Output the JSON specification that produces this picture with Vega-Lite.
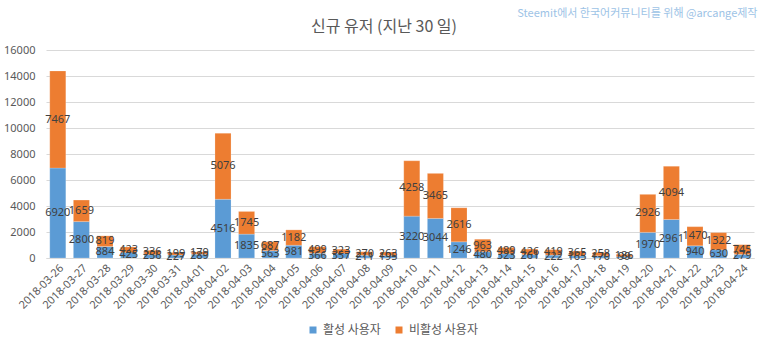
{
  "$schema": "https://vega.github.io/schema/vega-lite/v6.json",
  "width": 708,
  "height": 208,
  "autosize": {"type": "none"},
  "padding": {"left": 46, "top": 50, "right": 14, "bottom": 91},
  "background": "white",
  "title": {
    "text": "신규 유저 (지난 30 일)",
    "font": "Noto Sans CJK KR",
    "fontSize": 16,
    "fontWeight": "normal",
    "color": "#595959",
    "anchor": "middle",
    "dx": -16,
    "offset": -28
  },
  "data": {
    "values": [
      {"date": "2018-03-26", "type": "활성 사용자", "value": 6920},
      {"date": "2018-03-26", "type": "비활성 사용자", "value": 7467},
      {"date": "2018-03-27", "type": "활성 사용자", "value": 2800},
      {"date": "2018-03-27", "type": "비활성 사용자", "value": 1659},
      {"date": "2018-03-28", "type": "활성 사용자", "value": 884},
      {"date": "2018-03-28", "type": "비활성 사용자", "value": 819},
      {"date": "2018-03-29", "type": "활성 사용자", "value": 425},
      {"date": "2018-03-29", "type": "비활성 사용자", "value": 423},
      {"date": "2018-03-30", "type": "활성 사용자", "value": 256},
      {"date": "2018-03-30", "type": "비활성 사용자", "value": 336},
      {"date": "2018-03-31", "type": "활성 사용자", "value": 227},
      {"date": "2018-03-31", "type": "비활성 사용자", "value": 199},
      {"date": "2018-04-01", "type": "활성 사용자", "value": 289},
      {"date": "2018-04-01", "type": "비활성 사용자", "value": 179},
      {"date": "2018-04-02", "type": "활성 사용자", "value": 4516},
      {"date": "2018-04-02", "type": "비활성 사용자", "value": 5076},
      {"date": "2018-04-03", "type": "활성 사용자", "value": 1835},
      {"date": "2018-04-03", "type": "비활성 사용자", "value": 1745},
      {"date": "2018-04-04", "type": "활성 사용자", "value": 563},
      {"date": "2018-04-04", "type": "비활성 사용자", "value": 687},
      {"date": "2018-04-05", "type": "활성 사용자", "value": 981},
      {"date": "2018-04-05", "type": "비활성 사용자", "value": 1182},
      {"date": "2018-04-06", "type": "활성 사용자", "value": 366},
      {"date": "2018-04-06", "type": "비활성 사용자", "value": 499},
      {"date": "2018-04-07", "type": "활성 사용자", "value": 357},
      {"date": "2018-04-07", "type": "비활성 사용자", "value": 323},
      {"date": "2018-04-08", "type": "활성 사용자", "value": 211},
      {"date": "2018-04-08", "type": "비활성 사용자", "value": 270},
      {"date": "2018-04-09", "type": "활성 사용자", "value": 195},
      {"date": "2018-04-09", "type": "비활성 사용자", "value": 263},
      {"date": "2018-04-10", "type": "활성 사용자", "value": 3220},
      {"date": "2018-04-10", "type": "비활성 사용자", "value": 4258},
      {"date": "2018-04-11", "type": "활성 사용자", "value": 3044},
      {"date": "2018-04-11", "type": "비활성 사용자", "value": 3465},
      {"date": "2018-04-12", "type": "활성 사용자", "value": 1246},
      {"date": "2018-04-12", "type": "비활성 사용자", "value": 2616},
      {"date": "2018-04-13", "type": "활성 사용자", "value": 480},
      {"date": "2018-04-13", "type": "비활성 사용자", "value": 963},
      {"date": "2018-04-14", "type": "활성 사용자", "value": 323},
      {"date": "2018-04-14", "type": "비활성 사용자", "value": 489},
      {"date": "2018-04-15", "type": "활성 사용자", "value": 261},
      {"date": "2018-04-15", "type": "비활성 사용자", "value": 426},
      {"date": "2018-04-16", "type": "활성 사용자", "value": 222},
      {"date": "2018-04-16", "type": "비활성 사용자", "value": 419},
      {"date": "2018-04-17", "type": "활성 사용자", "value": 165},
      {"date": "2018-04-17", "type": "비활성 사용자", "value": 365},
      {"date": "2018-04-18", "type": "활성 사용자", "value": 170},
      {"date": "2018-04-18", "type": "비활성 사용자", "value": 258},
      {"date": "2018-04-19", "type": "활성 사용자", "value": 99},
      {"date": "2018-04-19", "type": "비활성 사용자", "value": 186},
      {"date": "2018-04-20", "type": "활성 사용자", "value": 1970},
      {"date": "2018-04-20", "type": "비활성 사용자", "value": 2926},
      {"date": "2018-04-21", "type": "활성 사용자", "value": 2961},
      {"date": "2018-04-21", "type": "비활성 사용자", "value": 4094},
      {"date": "2018-04-22", "type": "활성 사용자", "value": 940},
      {"date": "2018-04-22", "type": "비활성 사용자", "value": 1470},
      {"date": "2018-04-23", "type": "활성 사용자", "value": 630},
      {"date": "2018-04-23", "type": "비활성 사용자", "value": 1322},
      {"date": "2018-04-24", "type": "활성 사용자", "value": 279},
      {"date": "2018-04-24", "type": "비활성 사용자", "value": 745}
    ]
  },
  "encoding": {
    "x": {
      "field": "date",
      "type": "nominal",
      "scale": {"paddingInner": 0.32, "paddingOuter": 0.16},
      "axis": {
        "title": null,
        "labelAngle": -45,
        "labelFont": "Noto Sans",
        "labelFontSize": 11,
        "labelColor": "#595959",
        "labelPadding": 4,
        "ticks": false,
        "domainColor": "#D9D9D9",
        "grid": false
      }
    },
    "order": {"field": "type", "sort": "descending"}
  },
  "layer": [
    {
      "mark": {"type": "bar", "stroke": "white", "strokeWidth": 0.5, "strokeOpacity": 0.4},
      "encoding": {
        "y": {
          "field": "value",
          "type": "quantitative",
          "stack": "zero",
          "scale": {"domain": [0, 16000]},
          "axis": {
            "values": [0, 2000, 4000, 6000, 8000, 10000, 12000, 14000, 16000],
            "labelOverlap": false,
            "format": "d",
            "labelFont": "Noto Sans",
            "labelFontSize": 11,
            "labelColor": "#595959",
            "labelPadding": 11,
            "ticks": false,
            "domain": false,
            "gridColor": "#D9D9D9",
            "title": "Steemit에서 한국어커뮤니티를 위해 @arcange제작",
            "titleFont": "Noto Sans CJK KR",
            "titleFontSize": 11,
            "titleFontWeight": "normal",
            "titleColor": "#9DC3E6",
            "titleAngle": 0,
            "titleAlign": "right",
            "titleBaseline": "middle",
            "titleX": 711,
            "titleY": -37
          }
        },
        "color": {
          "field": "type",
          "type": "nominal",
          "scale": {"domain": ["활성 사용자", "비활성 사용자"], "range": ["#5B9BD5", "#ED7D31"]},
          "legend": {
            "title": null,
            "orient": "none",
            "direction": "horizontal",
            "legendX": 261,
            "legendY": 274,
            "symbolType": "square",
            "symbolSize": 49,
            "symbolStrokeWidth": 0,
            "labelFont": "Noto Sans CJK KR",
            "labelFontSize": 12,
            "labelColor": "#595959",
            "columnPadding": 12,
            "labelOffset": 4
          }
        }
      }
    },
    {
      "mark": {"type": "text", "font": "Noto Sans", "fontSize": 11, "color": "#404040", "baseline": "middle"},
      "encoding": {
        "y": {
          "field": "value",
          "type": "quantitative",
          "stack": "zero",
          "bandPosition": 0.5,
          "scale": {"domain": [0, 16000]},
          "axis": {
            "values": [0, 2000, 4000, 6000, 8000, 10000, 12000, 14000, 16000],
            "labelOverlap": false,
            "format": "d",
            "labelFont": "Noto Sans",
            "labelFontSize": 11,
            "labelColor": "#595959",
            "labelPadding": 11,
            "ticks": false,
            "domain": false,
            "gridColor": "#D9D9D9",
            "title": "Steemit에서 한국어커뮤니티를 위해 @arcange제작",
            "titleFont": "Noto Sans CJK KR",
            "titleFontSize": 11,
            "titleFontWeight": "normal",
            "titleColor": "#9DC3E6",
            "titleAngle": 0,
            "titleAlign": "right",
            "titleBaseline": "middle",
            "titleX": 711,
            "titleY": -37
          }
        },
        "detail": {"field": "type"},
        "text": {"field": "value", "type": "quantitative", "format": "d"}
      }
    }
  ],
  "config": {
    "view": {"stroke": null}
  }
}
